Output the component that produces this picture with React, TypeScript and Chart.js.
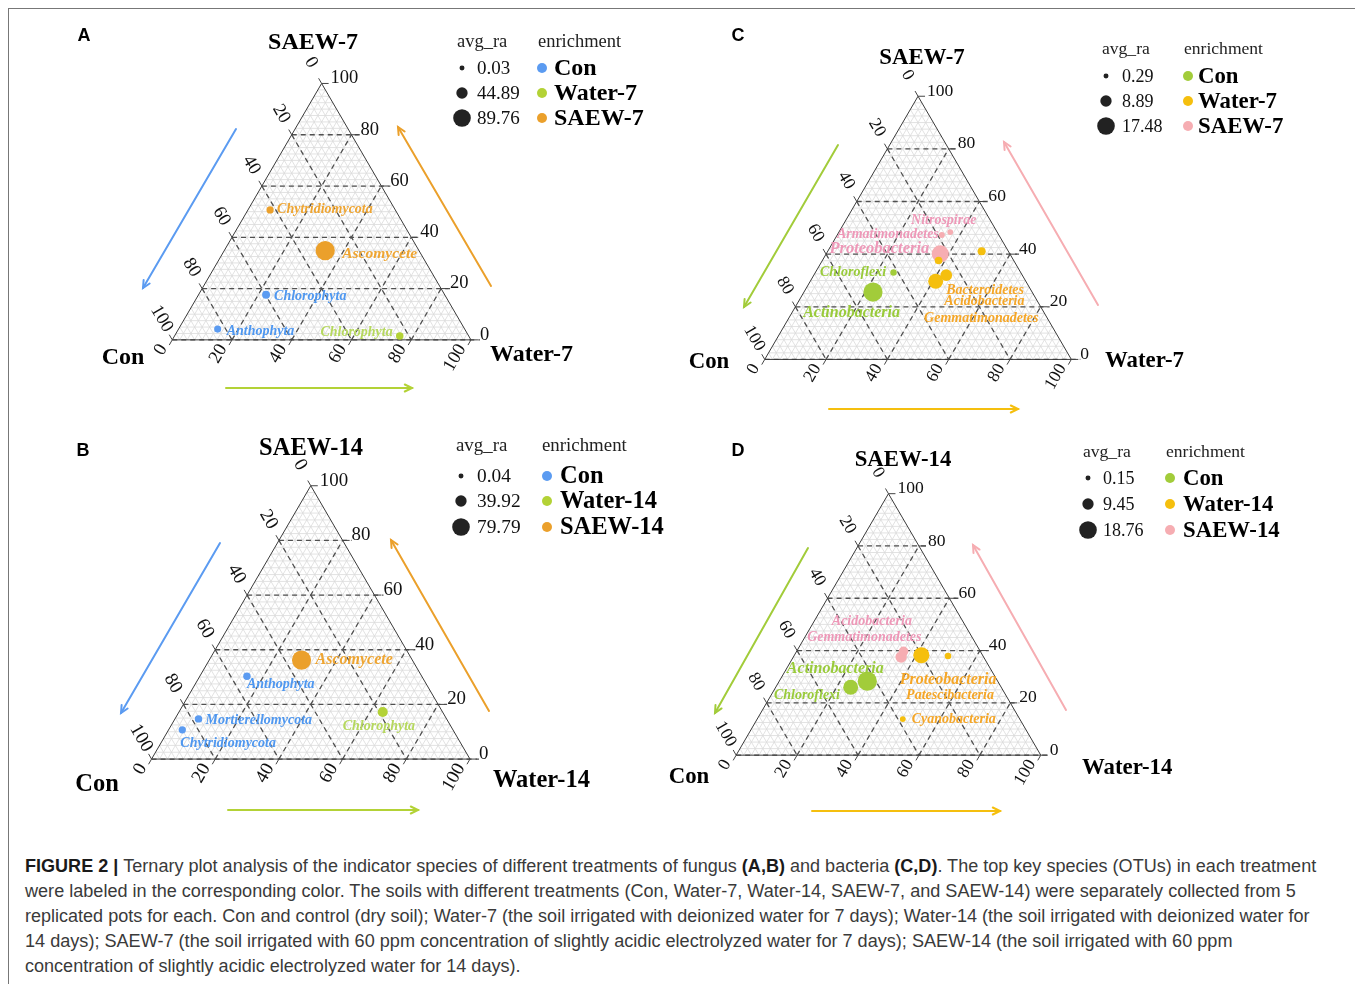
import React, { useEffect, useLayoutEffect, useRef } from 'react';
import { Chart, registerables } from 'chart.js';

Chart.register(...registerables);

const CANVAS_W = 1355;
const CANVAS_H = 840;
const SERIF = '"Liberation Serif", "Times New Roman", Times, serif';
const SANS = '"Liberation Sans", Arial, Helvetica, sans-serif';

// ---------------- DATA ----------------
const TICKS = [0, 20, 40, 60, 80, 100];

// Panel A: fungi, 7 days
const A_GROUPS = ['Con', 'Water-7', 'SAEW-7'];
const A_NAMES = ['Chytridiomycota', 'Ascomycete', 'Chlorophyta', 'Anthophyta', 'Chlorophyta'];
const A_CON = [41.9, 31.4, 59.8, 82.7, 23.1];
const A_WATER = [7.4, 33.8, 22.6, 13.1, 75.4];
const A_SAEW = [50.7, 34.8, 17.6, 4.2, 1.5];
const A_AVG_RA = [12, 89.76, 16.6, 11, 13.8];
const A_ENRICH = ['SAEW-7', 'SAEW-7', 'Con', 'Con', 'Water-7'];
const A_SIZE_BREAKS = [0.03, 44.89, 89.76];

// Panel B: fungi, 14 days
const B_GROUPS = ['Con', 'Water-14', 'SAEW-14'];
const B_NAMES = ['Ascomycete', 'Anthophyta', 'Mortierellomycota', 'Chytridiomycota', 'Chlorophyta'];
const B_CON = [34.8, 54.9, 77.9, 85.0, 18.8];
const B_WATER = [29.0, 14.8, 7.4, 4.3, 64.0];
const B_SAEW = [36.2, 30.3, 14.7, 10.7, 17.2];
const B_AVG_RA = [79.79, 12, 12, 11, 27];
const B_ENRICH = ['SAEW-14', 'Con', 'Con', 'Con', 'Water-14'];
const B_SIZE_BREAKS = [0.04, 39.92, 79.79];

// Panel C: bacteria, 7 days ('' = point without a printed label)
const C_GROUPS = ['Con', 'Water-7', 'SAEW-7'];
const C_NAMES = ['Nitrospirae', 'Armatimonadetes', 'Proteobacteria', '', 'Gemmatimonadetes', 'Bacteroidetes', 'Acidobacteria', 'Chloroflexi', 'Actinobacteria'];
const C_CON = [15.3, 18.6, 22.7, 8.7, 24.5, 24.8, 29.4, 41.5, 51.9];
const C_WATER = [36.3, 34.1, 37.2, 50.2, 37.9, 43.2, 40.9, 25.5, 22.5];
const C_SAEW = [48.4, 47.3, 40.1, 41.1, 37.6, 32.0, 29.7, 33.0, 25.6];
const C_AVG_RA = [0.8, 1.0, 14.8, 3.5, 3.0, 8.2, 12.2, 1.6, 17.48];
const C_ENRICH = ['SAEW-7', 'SAEW-7', 'SAEW-7', 'Water-7', 'Water-7', 'Water-7', 'Water-7', 'Con', 'Con'];
const C_SIZE_BREAKS = [0.29, 8.89, 17.48];

// Panel D: bacteria, 14 days
const D_GROUPS = ['Con', 'Water-14', 'SAEW-14'];
const D_NAMES = ['Gemmatimonadetes', 'Acidobacteria', 'Proteobacteria', 'Patescibacteria', 'Cyanobacteria', 'Actinobacteria', 'Chloroflexi'];
const D_CON = [27.1, 25.2, 20.1, 11.5, 38.4, 42.8, 49.4];
const D_WATER = [35.4, 35.1, 41.7, 50.6, 47.8, 28.9, 24.6];
const D_SAEW = [37.5, 39.7, 38.2, 37.9, 13.8, 28.3, 26.0];
const D_AVG_RA = [8.2, 5.9, 14.5, 1.6, 0.7, 18.76, 13];
const D_ENRICH = ['SAEW-14', 'SAEW-14', 'Water-14', 'Water-14', 'Water-14', 'Con', 'Con'];
const D_SIZE_BREAKS = [0.15, 9.45, 18.76];

// ---------------- STYLE / LAYOUT ----------------
const FUNGI_POINT = ['#5B9BF1', '#B3D236', '#EBA02B'];
const FUNGI_LABEL = ['#4E97F0', '#B6D85E', '#EFA531'];
const BACT_POINT = ['#A2CC3A', '#F5BF0E', '#F6ADB2'];
const BACT_LABEL = ['#99CB3A', '#F5A627', '#EE98B8'];
const R_MIN = 2.7;
const R_MAX = 9.6;

type Align = 'left' | 'right' | 'center';
interface PanelCfg {
  letter: string; letterXY: [number, number];
  x0: number; y0: number; L: number; fs: number;
  topTitle: string; rightTitle: string;
  titleXY: [number, number]; conXY: [number, number]; waterXY: [number, number];
  groups: string[]; pointColors: string[]; labelColors: string[];
  names: string[]; con: number[]; water: number[]; saew: number[]; avg: number[]; enrich: string[];
  breaks: number[];
  labDx: number[]; labDy: number[]; labAlign: Align[]; labSize: number[];
  legend: { titleY: number; avgX: number; enrX: number; rows: number[]; dotX: number; valX: number; eDotX: number; eLabX: number };
  arrows: number[][];
}

const PANELS: PanelCfg[] = [
  {
    letter: 'A', letterXY: [84, 36], x0: 165, y0: 338, L: 303, fs: 1,
    topTitle: 'SAEW-7', rightTitle: 'Water-7', titleXY: [313, 43], conXY: [123, 358], waterXY: [490, 355],
    groups: A_GROUPS, pointColors: FUNGI_POINT, labelColors: FUNGI_LABEL,
    names: A_NAMES, con: A_CON, water: A_WATER, saew: A_SAEW, avg: A_AVG_RA, enrich: A_ENRICH, breaks: A_SIZE_BREAKS,
    labDx: [7, 17, 8, 9, -7], labDy: [0, 3, 2, 2, -4], labAlign: ['left', 'left', 'left', 'left', 'right'], labSize: [14, 15.5, 14, 14, 14],
    legend: { titleY: 42, avgX: 457, enrX: 538, rows: [68, 93, 118], dotX: 462, valX: 477, eDotX: 542, eLabX: 554 },
    arrows: [[236, 129, 143, 288, 0], [491, 286, 398, 127, 2], [226, 388, 412, 388, 1]],
  },
  {
    letter: 'B', letterXY: [83, 451], x0: 144, y0: 767, L: 323, fs: 1.02,
    topTitle: 'SAEW-14', rightTitle: 'Water-14', titleXY: [311, 449], conXY: [97, 785], waterXY: [493, 781],
    groups: B_GROUPS, pointColors: FUNGI_POINT, labelColors: FUNGI_LABEL,
    names: B_NAMES, con: B_CON, water: B_WATER, saew: B_SAEW, avg: B_AVG_RA, enrich: B_ENRICH, breaks: B_SIZE_BREAKS,
    labDx: [14, 0, 7, -2, -40], labDy: [0, 8, 2, 14, 14], labAlign: ['left', 'left', 'left', 'left', 'left'], labSize: [16, 14, 14, 14, 14],
    legend: { titleY: 446, avgX: 456, enrX: 542, rows: [476, 501, 527], dotX: 461, valX: 477, eDotX: 547, eLabX: 560 },
    arrows: [[220, 543, 121, 713, 0], [489, 711, 391, 540, 2], [228, 810, 418, 810, 1]],
  },
  {
    letter: 'C', letterXY: [738, 36], x0: 766, y0: 358, L: 311, fs: 0.95,
    topTitle: 'SAEW-7', rightTitle: 'Water-7', titleXY: [922, 58], conXY: [709, 362], waterXY: [1105, 361],
    groups: C_GROUPS, pointColors: BACT_POINT, labelColors: BACT_LABEL,
    names: C_NAMES, con: C_CON, water: C_WATER, saew: C_SAEW, avg: C_AVG_RA, enrich: C_ENRICH, breaks: C_SIZE_BREAKS,
    labDx: [-6.5, -3, -11, 0, 42.7, 0, 8.7, -7.4, -21.4], labDy: [-11.7, -1, -5, 0, 58.3, 15, 20.3, 0, 21],
    labAlign: ['center', 'right', 'right', 'left', 'center', 'left', 'left', 'right', 'center'],
    labSize: [14, 14, 16.5, 14, 14, 14, 14, 14, 16],
    legend: { titleY: 49, avgX: 1102, enrX: 1184, rows: [76, 101, 126], dotX: 1106, valX: 1122, eDotX: 1188, eLabX: 1198 },
    arrows: [[838, 145, 744, 307, 0], [1098, 305, 1004, 142, 2], [829, 409, 1018, 409, 1]],
  },
  {
    letter: 'D', letterXY: [738, 451], x0: 737, y0: 763, L: 309, fs: 0.95,
    topTitle: 'SAEW-14', rightTitle: 'Water-14', titleXY: [903, 460], conXY: [689, 777], waterXY: [1082, 768],
    groups: D_GROUPS, pointColors: BACT_POINT, labelColors: BACT_LABEL,
    names: D_NAMES, con: D_CON, water: D_WATER, saew: D_SAEW, avg: D_AVG_RA, enrich: D_ENRICH, breaks: D_SIZE_BREAKS,
    labDx: [-36.8, -31.7, 26.7, 2, 9, -32, -10.7], labDy: [-19.7, -29.7, 24.3, 39.3, 0.5, -12.3, 8.4],
    labAlign: ['center', 'center', 'center', 'center', 'left', 'center', 'right'],
    labSize: [14, 14, 16, 14, 14, 16, 14],
    legend: { titleY: 452, avgX: 1083, enrX: 1166, rows: [478, 504, 530], dotX: 1088, valX: 1103, eDotX: 1170, eLabX: 1183 },
    arrows: [[808, 548, 715, 713, 0], [1066, 710, 973, 545, 2], [812, 811, 1000, 811, 1]],
  },
];

const CAPTION_LINES: [boolean, string][][] = [
  [[true, 'FIGURE 2 | '], [false, 'Ternary plot analysis of the indicator species of different treatments of fungus '], [true, '(A,B)'], [false, ' and bacteria '], [true, '(C,D)'], [false, '. The top key species (OTUs) in each treatment']],
  [[false, 'were labeled in the corresponding color. The soils with different treatments (Con, Water-7, Water-14, SAEW-7, and SAEW-14) were separately collected from 5']],
  [[false, 'replicated pots for each. Con and control (dry soil); Water-7 (the soil irrigated with deionized water for 7 days); Water-14 (the soil irrigated with deionized water for']],
  [[false, '14 days); SAEW-7 (the soil irrigated with 60 ppm concentration of slightly acidic electrolyzed water for 7 days); SAEW-14 (the soil irrigated with 60 ppm']],
  [[false, 'concentration of slightly acidic electrolyzed water for 14 days).']],
];
const CAPTION_WIDTHS = [1291, 1271, 1285, 1208, 496];

// ---------------- HELPERS ----------------
const SQ3 = Math.sqrt(3) / 2;
function cart(con: number, water: number, saew: number): [number, number] {
  const s = con + water + saew;
  const w = (water / s) * 100;
  const sa = (saew / s) * 100;
  return [w + sa / 2, sa * SQ3];
}
function sizeOf(v: number, mn: number, mx: number) {
  const t = Math.max(0, Math.min(1, (v - mn) / (mx - mn)));
  return R_MIN + (R_MAX - R_MIN) * t;
}
function T(chart: any, con: number, water: number, saew: number): [number, number] {
  const [cx, cy] = cart(con, water, saew);
  return [chart.scales.x.getPixelForValue(cx), chart.scales.y.getPixelForValue(cy)];
}
function seg(ctx: CanvasRenderingContext2D, a: number[], b: number[]) {
  ctx.beginPath();
  ctx.moveTo(a[0], a[1]);
  ctx.lineTo(b[0], b[1]);
  ctx.stroke();
}
function text(ctx: CanvasRenderingContext2D, s: string, x: number, y: number, font: string, color: string, align: CanvasTextAlign = 'left', rot = 0) {
  ctx.save();
  ctx.font = font;
  ctx.fillStyle = color;
  ctx.textAlign = align;
  ctx.textBaseline = 'middle';
  ctx.translate(x, y);
  if (rot) ctx.rotate(rot);
  ctx.fillText(s, 0, 0);
  ctx.restore();
}
function arrow(ctx: CanvasRenderingContext2D, x1: number, y1: number, x2: number, y2: number, color: string) {
  ctx.save();
  ctx.strokeStyle = color;
  ctx.lineWidth = 2;
  ctx.lineCap = 'round';
  seg(ctx, [x1, y1], [x2, y2]);
  const a = Math.atan2(y2 - y1, x2 - x1);
  const len = 8, sp = 0.45;
  ctx.beginPath();
  ctx.moveTo(x2 - len * Math.cos(a - sp), y2 - len * Math.sin(a - sp));
  ctx.lineTo(x2, y2);
  ctx.lineTo(x2 - len * Math.cos(a + sp), y2 - len * Math.sin(a + sp));
  ctx.stroke();
  ctx.restore();
}

function drawTriangle(chart: any, p: PanelCfg) {
  const ctx: CanvasRenderingContext2D = chart.ctx;
  const fs = p.fs;
  ctx.save();
  // fine mesh
  ctx.strokeStyle = '#dadada';
  ctx.lineWidth = 0.8;
  for (let i = 1; i < 40; i++) {
    const v = i * 2.5;
    seg(ctx, T(chart, 100 - v, 0, v), T(chart, 0, 100 - v, v));
    seg(ctx, T(chart, v, 0, 100 - v), T(chart, v, 100 - v, 0));
    seg(ctx, T(chart, 100 - v, v, 0), T(chart, 0, v, 100 - v));
  }
  // major dashed grid
  ctx.strokeStyle = '#505050';
  ctx.lineWidth = 1.3;
  ctx.setLineDash([5, 4]);
  for (const v of [20, 40, 60, 80]) {
    const r = T(chart, 0, 100 - v, v);
    seg(ctx, T(chart, 100 - v, 0, v), [r[0] + 9, r[1]]);
    seg(ctx, T(chart, v, 0, 100 - v), T(chart, v, 100 - v, 0));
    seg(ctx, T(chart, 100 - v, v, 0), T(chart, 0, v, 100 - v));
  }
  {
    const c = T(chart, 100, 0, 0), w = T(chart, 0, 100, 0);
    seg(ctx, c, [w[0] + 9, w[1]]);
  }
  ctx.setLineDash([]);
  // triangle outline
  ctx.strokeStyle = '#3a3a3a';
  ctx.lineWidth = 1;
  const C = T(chart, 100, 0, 0), W = T(chart, 0, 100, 0), S = T(chart, 0, 0, 100);
  ctx.beginPath();
  ctx.moveTo(C[0], C[1]);
  ctx.lineTo(W[0], W[1]);
  ctx.lineTo(S[0], S[1]);
  ctx.closePath();
  ctx.stroke();
  // ticks + labels
  ctx.strokeStyle = '#444';
  const tickFont = `${18.5 * fs}px ${SERIF}`;
  for (const v of TICKS) {
    const r = T(chart, 0, 100 - v, v);
    seg(ctx, r, [r[0] + 7, r[1]]);
    text(ctx, String(v), r[0] + 9, r[1] - 5, tickFont, '#111', 'left');
    const l = T(chart, v, 0, 100 - v);
    seg(ctx, l, [l[0] - 3, l[1] - 5.2]);
    text(ctx, String(v), l[0] - 10.5, l[1] - 21, tickFont, '#111', 'center', Math.PI / 3);
    const b = T(chart, 100 - v, v, 0);
    seg(ctx, b, [b[0] - 3, b[1] + 5.2]);
    text(ctx, String(v), b[0] - 9, b[1] + 6, tickFont, '#111', 'right', -Math.PI / 3);
  }
  ctx.restore();
}

function drawLabels(chart: any, p: PanelCfg) {
  const ctx: CanvasRenderingContext2D = chart.ctx;
  p.names.forEach((name, i) => {
    if (!name) return;
    const [x, y] = T(chart, p.con[i], p.water[i], p.saew[i]);
    const col = p.labelColors[p.groups.indexOf(p.enrich[i])];
    text(ctx, name, x + p.labDx[i], y + p.labDy[i], `italic bold ${p.labSize[i]}px ${SERIF}`, col, p.labAlign[i]);
  });
}

function drawDecor(chart: any, p: PanelCfg) {
  const ctx: CanvasRenderingContext2D = chart.ctx;
  const fs = p.fs;
  ctx.save();
  // arrows
  p.arrows.forEach(a => arrow(ctx, a[0], a[1], a[2], a[3], p.pointColors[a[4]]));
  // axis titles
  const bold = `bold ${24 * fs}px ${SERIF}`;
  text(ctx, p.topTitle, p.titleXY[0], p.titleXY[1], bold, '#000', 'center');
  text(ctx, 'Con', p.conXY[0], p.conXY[1], bold, '#000', 'center');
  text(ctx, p.rightTitle, p.waterXY[0], p.waterXY[1], bold, '#000', 'left');
  // panel letter
  text(ctx, p.letter, p.letterXY[0], p.letterXY[1], `bold 18px ${SANS}`, '#000', 'center');
  // legend
  const lg = p.legend;
  text(ctx, 'avg_ra', lg.avgX, lg.titleY, `${18.5 * fs}px ${SERIF}`, '#222', 'left');
  text(ctx, 'enrichment', lg.enrX, lg.titleY, `${18.5 * fs}px ${SERIF}`, '#222', 'left');
  const mn = p.breaks[0], mx = p.breaks[p.breaks.length - 1];
  p.breaks.forEach((b, i) => {
    const y = lg.rows[i];
    ctx.fillStyle = '#222';
    ctx.beginPath();
    ctx.arc(lg.dotX, y, sizeOf(b, mn, mx) * 0.92, 0, Math.PI * 2);
    ctx.fill();
    text(ctx, b.toFixed(2), lg.valX, y + 1, `${19 * fs}px ${SERIF}`, '#111', 'left');
  });
  p.groups.forEach((g, i) => {
    const y = lg.rows[i];
    ctx.fillStyle = p.pointColors[i];
    ctx.beginPath();
    ctx.arc(lg.eDotX, y, 5, 0, Math.PI * 2);
    ctx.fill();
    text(ctx, g, lg.eLabX, y + 1, `bold ${24 * fs}px ${SERIF}`, '#000', 'left');
  });
  ctx.restore();
}

function makePlugin(p: PanelCfg) {
  return {
    id: 'ternary' + p.letter,
    beforeDatasetsDraw(chart: any) { drawTriangle(chart, p); },
    afterDatasetsDraw(chart: any) { drawLabels(chart, p); drawDecor(chart, p); },
  };
}

function TernaryPanel({ cfg }: { cfg: PanelCfg }) {
  const ref = useRef<HTMLCanvasElement>(null);
  useEffect(() => {
    const canvas = ref.current;
    if (!canvas) return;
    const k = cfg.L / 100;
    const mn = cfg.breaks[0], mx = cfg.breaks[cfg.breaks.length - 1];
    const data = cfg.con.map((_, i) => {
      const [x, y] = cart(cfg.con[i], cfg.water[i], cfg.saew[i]);
      return { x, y };
    });
    const radii = cfg.avg.map(v => sizeOf(v, mn, mx));
    const colors = cfg.enrich.map(e => cfg.pointColors[cfg.groups.indexOf(e)]);
    const chart = new Chart(canvas, {
      type: 'scatter',
      data: {
        datasets: [{
          data,
          backgroundColor: colors,
          pointBackgroundColor: colors,
          pointRadius: radii,
          pointHoverRadius: radii,
          pointBorderWidth: 0,
          borderWidth: 0,
          clip: false,
        } as any],
      },
      options: {
        animation: false,
        responsive: false,
        maintainAspectRatio: false,
        devicePixelRatio: 1,
        events: [],
        layout: { padding: 0 },
        plugins: { legend: { display: false }, tooltip: { enabled: false }, title: { display: false } },
        scales: {
          x: { type: 'linear', display: false, min: -cfg.x0 / k, max: (CANVAS_W - cfg.x0) / k },
          y: { type: 'linear', display: false, min: (cfg.y0 - CANVAS_H) / k, max: cfg.y0 / k },
        },
      } as any,
      plugins: [makePlugin(cfg)],
    });
    return () => chart.destroy();
  }, [cfg]);
  return (
    <canvas
      ref={ref}
      width={CANVAS_W}
      height={CANVAS_H}
      style={{ position: 'absolute', left: 0, top: 0, width: CANVAS_W, height: CANVAS_H }}
    />
  );
}

function Caption() {
  const refs = useRef<(HTMLDivElement | null)[]>([]);
  useLayoutEffect(() => {
    refs.current.forEach((el, i) => {
      if (!el) return;
      const w = el.offsetWidth;
      if (w > 0) el.style.transform = `scaleX(${CAPTION_WIDTHS[i] / w})`;
    });
  }, []);
  return (
    <>
      {CAPTION_LINES.map((line, i) => (
        <div
          key={i}
          ref={el => { refs.current[i] = el; }}
          style={{
            position: 'absolute', left: 25, top: 853.5 + 25 * i, lineHeight: '25px',
            fontFamily: SANS, fontSize: 17.5, color: '#333', whiteSpace: 'nowrap',
            transformOrigin: 'left center', display: 'inline-block',
          }}
        >
          {line.map(([b, s], j) => (
            <span key={j} style={{ fontWeight: b ? 700 : 400, color: b ? '#1a1a1a' : '#3a3a3a' }}>{s}</span>
          ))}
        </div>
      ))}
    </>
  );
}

export default function App() {
  return (
    <div style={{ position: 'absolute', left: 0, top: 0, width: 1355, height: 984, background: '#fff', overflow: 'hidden' }}>
      <div style={{ position: 'absolute', left: 8, top: 8, width: 1347, height: 976, borderTop: '1px solid #777', borderLeft: '1px solid #777', boxSizing: 'border-box' }} />
      {PANELS.map(p => <TernaryPanel key={p.letter} cfg={p} />)}
      <Caption />
    </div>
  );
}
